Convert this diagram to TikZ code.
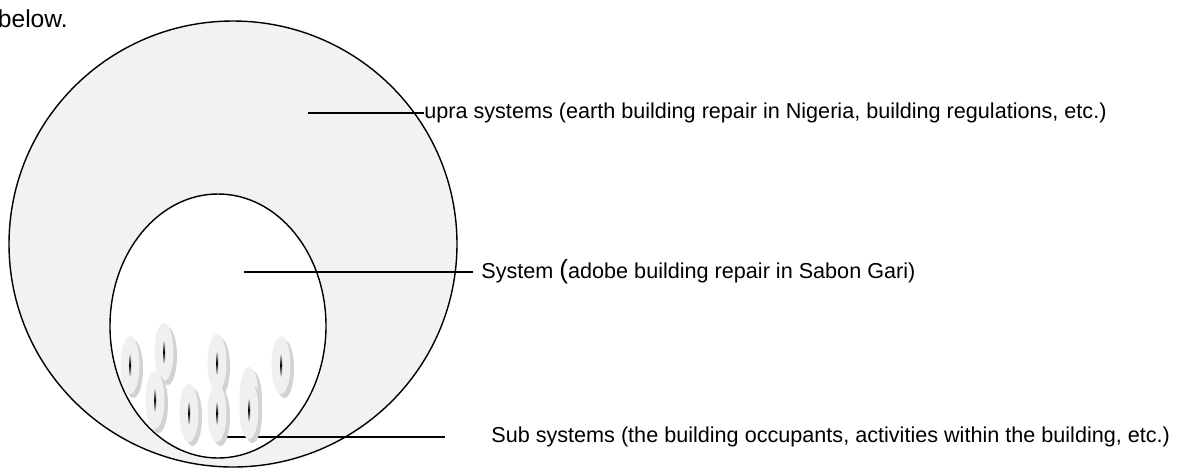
\documentclass[tikz,border=0pt]{standalone}
\usepackage{fontspec}
\setmainfont{Liberation Sans}
\begin{document}
\begin{tikzpicture}[x=0.02cm,y=-0.02cm,
    outline/.style={draw=black,line width=0.8pt},
    pointer/.style={draw=black,line width=0.8pt},
    label/.style={anchor=west,inner sep=0pt,font=\fontsize{12.3}{14}\selectfont},
    cell/.style={fill=gray!12},
    cellshadow/.style={fill=gray!35},
    slit/.style={top color=gray!25,bottom color=gray!25,middle color=black}]
\useasboundingbox (0,0) rectangle (1184,468);
\clip (0,0) rectangle (1184,468);
\node[anchor=base east,inner sep=0pt,font=\fontsize{14}{16}\selectfont] (below) at (68,27) {below.};
% supra system and system
\fill[gray!10] (233,244) ellipse [x radius=224,y radius=223];
\fill[white] (218,326) ellipse [x radius=108,y radius=132];
% pointers and labels
\coordinate (supraFrom) at (308,113);
\coordinate (systemFrom) at (244,272);
\coordinate (systemTo) at (473,272);
\coordinate (subFrom) at (222,437);
\coordinate (subTo) at (445,437);
\node[label] (supra) at (424,113) {upra systems (earth building repair in Nigeria, building regulations, etc.)};
\node[label] (system) at (481,272) {System {\fontsize{15}{15}\selectfont(}adobe building repair in Sabon Gari)};
\node[label] (sub) at (491,437) {Sub systems (the building occupants, activities within the building, etc.)};
\draw[pointer] (supraFrom) -- (supra.west);
\draw[pointer] (systemFrom) -- (systemTo);
\draw[pointer] (subFrom) -- (subTo);
% sub systems
\foreach \x/\y in {130/365,164/352,155/400,189/413,217/363,217/413,249/396,249/410,281/365}{
    \fill[cellshadow] (\x+3.5,\y+4) ellipse [x radius=9.5,y radius=29];
    \fill[cell] (\x,\y) ellipse [x radius=9.5,y radius=29];
    \shade[slit] (\x-1,\y-11) rectangle (\x+1,\y+11);
}
\draw[outline] (233,244) ellipse [x radius=224,y radius=223];
\draw[outline] (218,326) ellipse [x radius=108,y radius=132];
\end{tikzpicture}
\end{document}
